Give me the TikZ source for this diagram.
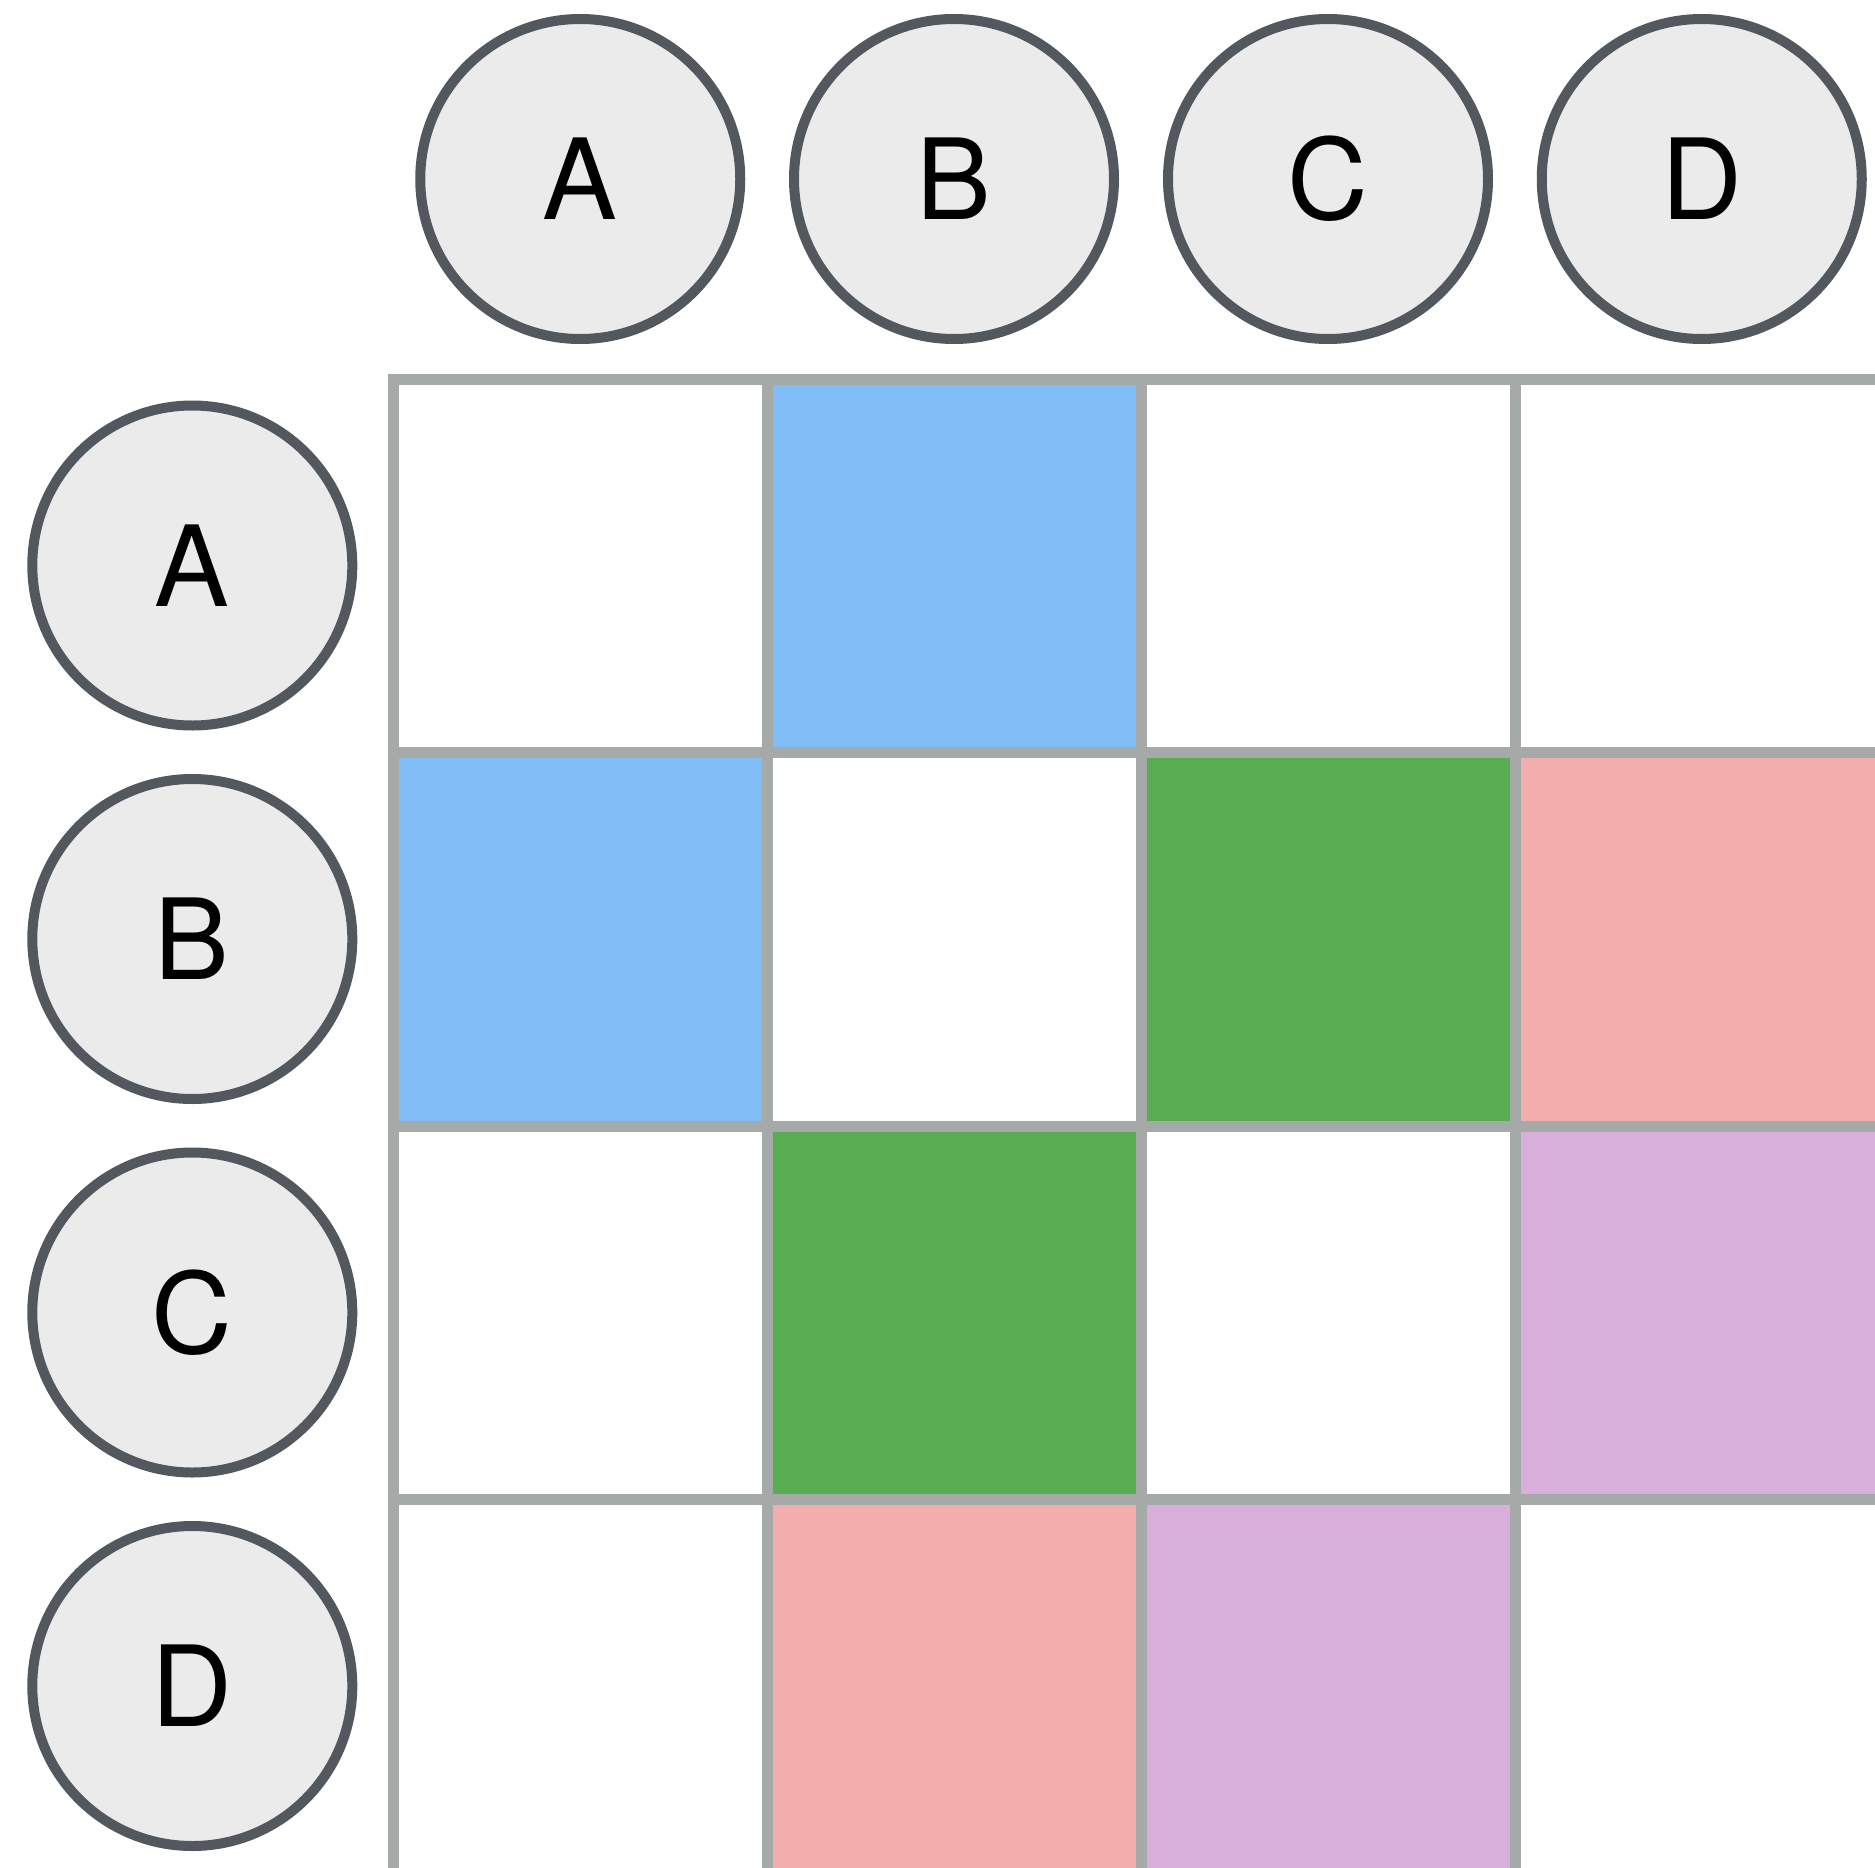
\documentclass[tikz,border=0pt]{standalone}
\usepackage{fontspec}
\setmainfont{TeX Gyre Heros}
\definecolor{gridgray}{HTML}{A5A9A8}
\definecolor{ringgray}{HTML}{53585F}
\definecolor{ringfill}{HTML}{EBEBEB}
\definecolor{cblue}{HTML}{80BCF5}
\definecolor{cgreen}{HTML}{58AC52}
\definecolor{cpink}{HTML}{F2ADAD}
\definecolor{cpurple}{HTML}{D8AFDB}
\tikzset{
  label circle/.style={circle, draw=ringgray, fill=ringfill, line width=10pt,
    minimum size=320pt, inner sep=0pt, font=\fontsize{112}{134}\selectfont},
  gridline/.style={draw=gridgray, line width=11pt}
}
\begin{document}
\begin{tikzpicture}[x=1pt,y=-1pt]
\useasboundingbox (0,0) rectangle (1875,1868);
\clip (0,0) rectangle (1875,1868);
\fill[white] (0,0) rectangle (1875,1868);
% column lines x: 393.5, 767, 1141, 1515, 1889 ; row lines y: 379, 752, 1126, 1499, 1873
\def\xa{393.5}\def\xb{767}\def\xc{1141}\def\xd{1515}\def\xe{1889}
\def\ya{379}\def\yb{752}\def\yc{1126}\def\yd{1499}\def\ye{1873}
% coloured cells
\fill[cblue]   (\xb,\ya) rectangle (\xc,\yb);
\fill[cblue]   (\xa,\yb) rectangle (\xb,\yc);
\fill[cgreen]  (\xc,\yb) rectangle (\xd,\yc);
\fill[cpink]   (\xd,\yb) rectangle (\xe,\yc);
\fill[cgreen]  (\xb,\yc) rectangle (\xc,\yd);
\fill[cpurple] (\xd,\yc) rectangle (\xe,\yd);
\fill[cpink]   (\xb,\yd) rectangle (\xc,\ye);
\fill[cpurple] (\xc,\yd) rectangle (\xd,\ye);
% grid
\foreach \x in {\xa,\xb,\xc,\xd,\xe} \draw[gridline] (\x,\ya-5.5) -- (\x,\ye+5.5);
\foreach \y in {\ya,\yb,\yc,\yd,\ye} \draw[gridline] (\xa-5.5,\y) -- (\xe+5.5,\y);
% column headers
\node[label circle] (cA) at (580.25,179) {A};
\node[label circle] (cB) at (954,179) {B};
\node[label circle] (cC) at (1328,179) {C};
\node[label circle] (cD) at (1701.75,179) {D};
% row headers
\node[label circle] (rA) at (192.3,565.5) {A};
\node[label circle] (rB) at (192.3,939) {B};
\node[label circle] (rC) at (192.3,1312.5) {C};
\node[label circle] (rD) at (192.3,1686) {D};
\end{tikzpicture}
\end{document}
